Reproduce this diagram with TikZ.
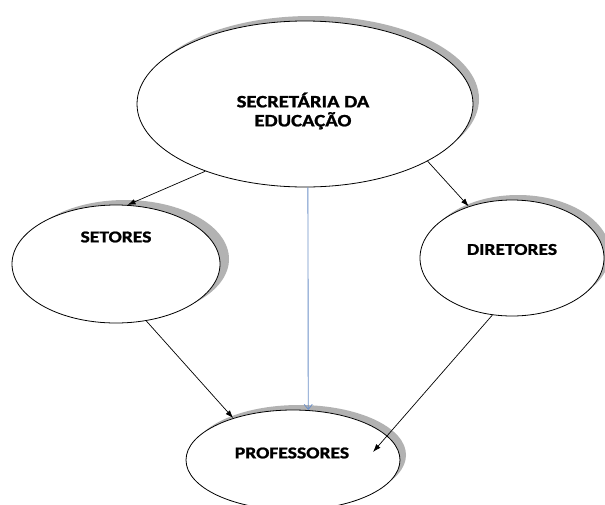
\documentclass[tikz,border=0pt]{standalone}
\usepackage{fontspec}
\newfontfamily\labelfont{Carlito}[FakeStretch=1.18, BoldFeatures={FakeBold=1.2}]
\usetikzlibrary{shapes.geometric,shadows,arrows.meta}
\definecolor{linkblue}{RGB}{110,145,200}

\begin{document}
\begin{tikzpicture}[x=1pt,y=-1pt,
  bubble/.style={ellipse, draw=black, line width=0.8pt, fill=white, inner sep=0pt,
    general shadow={shadow xshift=#1, shadow yshift=5pt, fill=black!30}},
  bubble/.default=6pt,
  caption/.style={font=\labelfont\bfseries\fontsize{16.6}{19}\selectfont,
    inner sep=0pt, align=center},
  link/.style={line width=0.7pt, -{Latex[length=8pt,width=5.5pt]}},
  bluelink/.style={line width=0.9pt, draw=linkblue,
    -{Straight Barb[length=5pt,width=8pt]}}]

  % page frame
  \fill[white] (0,0) rectangle (605,504);
  \useasboundingbox (0,0) rectangle (605,504);
  \clip (0,0) rectangle (605,504);

  % ellipses
  \node[bubble, minimum width=336pt, minimum height=166pt] (secretaria) at (305,104) {};
  \node[bubble=9pt, minimum width=208pt, minimum height=118pt] (setores) at (116,264) {};
  \node[bubble, minimum width=184pt, minimum height=116pt] (diretores) at (512,258) {};
  \node[bubble, minimum width=214pt, minimum height=100pt] (professores) at (293,460) {};

  % captions
  \node[caption, font=\labelfont\bfseries\fontsize{17.5}{19}\selectfont]
    (secretaria-t) at (303,111) {SECRETÁRIA DA\\EDUCAÇÃO};
  \node[caption] (setores-t) at (116,237) {SETORES};
  \node[caption] (diretores-t) at (512,249.5) {DIRETORES};
  \node[caption] (professores-t) at (292,453) {PROFESSORES};

  % free end of the arrow from the directors
  \coordinate (prof-in) at (373,452);

  % connectors
  \draw[link] (secretaria.214.8) -- (setores.79.8);
  \draw[link] (secretaria.335.1) -- (diretores.130.3);
  \draw[bluelink] (secretaria.272.1) -- (professores.73.3);
  \draw[link] (setores.298.5) -- (professores.145.7);
  \draw[link] (diretores.251.6) -- (prof-in);
\end{tikzpicture}
\end{document}
